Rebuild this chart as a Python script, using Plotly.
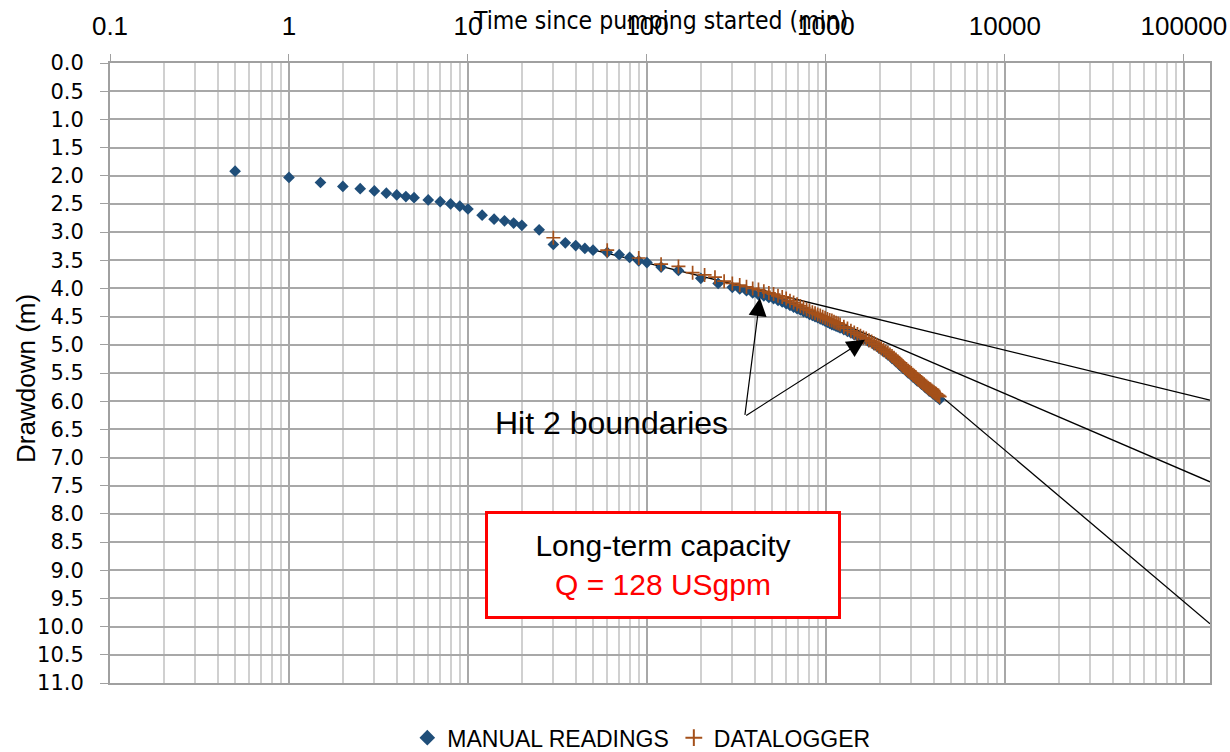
import math
import plotly.graph_objects as go

# ---------------- data ----------------
manual_t = [0.5, 1, 1.5, 2, 2.5, 3, 3.5, 4, 4.5, 5, 6, 7, 8, 9, 10, 12, 14, 16, 18, 20,
            25, 30, 35, 40, 45, 50, 60, 70, 80, 90, 100, 120, 150, 200, 250, 300,
            330, 360, 390, 420, 450, 480, 510, 540, 570, 600, 630, 660, 690, 720, 750,
            780, 810, 840, 870, 900, 930, 960, 990, 1020, 1050, 1080, 1110, 1140, 1170,
            1200, 1260, 1320, 1380, 1440, 1500, 1620, 1740, 1860, 1980, 2100, 2220,
            2340, 2460, 2580, 2700, 2880, 3060, 3240, 3420, 3600, 3780, 3960, 4140, 4320]
manual_d = [1.92, 2.03, 2.12, 2.19, 2.23, 2.27, 2.31, 2.34, 2.37, 2.39, 2.43, 2.46, 2.50,
            2.54, 2.59, 2.70, 2.77, 2.80, 2.84, 2.88, 2.96, 3.22, 3.19, 3.24, 3.29, 3.32,
            3.36, 3.40, 3.45, 3.51, 3.54, 3.62, 3.68, 3.82, 3.91, 3.98,
            4.01, 4.04, 4.08, 4.11, 4.13, 4.16, 4.18, 4.21, 4.24, 4.27, 4.30, 4.33, 4.36,
            4.38, 4.41, 4.43, 4.46, 4.48, 4.50, 4.52, 4.54, 4.56, 4.58, 4.60, 4.62, 4.64,
            4.65, 4.67, 4.68, 4.70, 4.73, 4.76, 4.79, 4.82, 4.84, 4.90, 4.95, 5.00, 5.06,
            5.12, 5.18, 5.24, 5.30, 5.36, 5.42, 5.50, 5.57, 5.64, 5.70, 5.76, 5.82, 5.87,
            5.92, 5.97]

logger_t = [30, 60, 90, 120, 150, 180, 210, 240, 270, 300, 330, 360, 390, 420, 450, 480,
            510, 540, 570, 600, 630, 660, 690, 720, 750, 780, 810, 840, 870, 900, 930,
            960, 990, 1020, 1050, 1080, 1110, 1140, 1170, 1200,
            1260, 1320, 1380, 1440, 1500, 1560, 1620, 1680, 1740, 1800, 1860, 1920, 1980,
            2040, 2100, 2160, 2220, 2280, 2340, 2400, 2460, 2520, 2580, 2640, 2700, 2760,
            2820, 2880, 2940, 3000, 3060, 3120, 3180, 3240, 3300, 3360, 3420, 3480, 3540,
            3600, 3660, 3720, 3780, 3840, 3900, 3960, 4020, 4080, 4140, 4200, 4260, 4320]
logger_d = [3.10, 3.32, 3.46, 3.57, 3.61, 3.72, 3.76, 3.80, 3.87, 3.91, 3.94, 3.97, 4.00,
            4.02, 4.05, 4.08, 4.10, 4.13, 4.15, 4.18, 4.22, 4.25, 4.28, 4.31, 4.34, 4.37,
            4.39, 4.42, 4.44, 4.46, 4.48, 4.50, 4.52, 4.54, 4.56, 4.57, 4.59, 4.61, 4.62,
            4.64,
            4.68, 4.71, 4.75, 4.78, 4.81, 4.84, 4.87, 4.89, 4.92, 4.94, 4.97, 5.00, 5.03,
            5.06, 5.09, 5.12, 5.14, 5.17, 5.20, 5.23, 5.26, 5.29, 5.32, 5.35, 5.38, 5.41,
            5.43, 5.46, 5.48, 5.50, 5.53, 5.55, 5.57, 5.60, 5.62, 5.64, 5.66, 5.68, 5.70,
            5.72, 5.74, 5.76, 5.78, 5.79, 5.81, 5.83, 5.84, 5.86, 5.87, 5.89, 5.90, 5.92]

# Straight-line (semi-log) fits
line1_t = [40, 140000]
line1_d = [3.24, 5.98]
line2_t = [450, 140000]
line2_d = [4.03, 7.43]
line3_t = [2180, 140000]
line3_d = [5.09, 9.95]

x_tickvals = [0.1, 1, 10, 100, 1000, 10000, 100000]
x_ticktext = ["0.1", "1", "10", "100", "1000", "10000", "100000"]
y_tickvals = [i * 0.5 for i in range(23)]
y_ticktext = ["%.1f" % v for v in y_tickvals]

# arrows: heads and common tail (time, drawdown)
arrow_heads = [(428, 4.17), (1652, 4.91)]
arrow_tail = (352, 6.27)

COND = "DejaVu Sans Condensed, Liberation Sans, Arial, sans-serif"
REG = "Liberation Sans, Arial, sans-serif"
BLUE = "#1F4E79"
BROWN = "#A4501A"

fig = go.Figure()
for lt, ld in [(line1_t, line1_d), (line2_t, line2_d), (line3_t, line3_d)]:
    fig.add_trace(go.Scatter(x=lt, y=ld, mode="lines", line=dict(color="black", width=1.3),
                             showlegend=False, hoverinfo="skip"))

fig.add_trace(go.Scatter(x=manual_t, y=manual_d, mode="markers", name="MANUAL READINGS",
                         marker=dict(symbol="diamond", size=9, color=BLUE,
                                     line=dict(width=0))))
fig.add_trace(go.Scatter(x=logger_t, y=logger_d, mode="markers", name="DATALOGGER",
                         marker=dict(symbol="cross-thin", size=10, color=BROWN,
                                     line=dict(width=1.7, color=BROWN))))

annotations = []
for ht, hd in arrow_heads:
    annotations.append(dict(x=math.log10(ht), y=hd, xref="x", yref="y",
                            ax=math.log10(arrow_tail[0]), ay=arrow_tail[1],
                            axref="x", ayref="y", text="", showarrow=True,
                            arrowhead=2, arrowsize=3, arrowwidth=1.2,
                            arrowcolor="black", standoff=0, startstandoff=0))

annotations.append(dict(x=0.456, y=0.4194, xref="paper", yref="paper",
                        text="Hit 2 boundaries", showarrow=False,
                        font=dict(family=REG, size=32, color="black"),
                        xanchor="center", yanchor="middle"))
annotations.append(dict(x=0.5027, y=0.1911, xref="paper", yref="paper",
                        text="Long-term capacity<br><span style='color:#FF0000'>Q = 128 USgpm</span>",
                        showarrow=False, font=dict(family=REG, size=30, color="black"),
                        xanchor="center", yanchor="middle", align="center",
                        bordercolor="#FF0000", borderwidth=3, borderpad=0,
                        bgcolor="white", width=350, height=102))
annotations.append(dict(x=0.5, y=1.0, xref="paper", yref="paper", yshift=43,
                        text="Time since pumping started (min)", showarrow=False,
                        font=dict(family=COND, size=24.5, color="black"),
                        xanchor="center", yanchor="middle"))
annotations.append(dict(x=-0.0764, y=0.492, xref="paper", yref="paper",
                        text="Drawdown (m)", showarrow=False, textangle=-90,
                        font=dict(family=REG, size=26, color="black"),
                        xanchor="center", yanchor="middle"))

fig.update_layout(
    width=1230, height=752,
    margin=dict(l=110, r=20, t=63, b=69),
    plot_bgcolor="white", paper_bgcolor="white",
    showlegend=True,
    legend=dict(orientation="h", x=0.483, xanchor="center",
                yref="container", y=0.019, yanchor="middle",
                font=dict(family=REG, size=23, color="black"),
                itemsizing="constant", traceorder="normal", bgcolor="rgba(0,0,0,0)"),
    annotations=annotations,
)

fig.update_xaxes(type="log", range=[-1, math.log10(140000)], side="top",
                 tickvals=x_tickvals, ticktext=x_ticktext,
                 tickfont=dict(family=REG, size=26, color="black"),
                 ticks="outside", ticklen=7, tickcolor="#A0A0A0", tickwidth=1.3,
                 showgrid=True, gridcolor="#A8A8A8", gridwidth=1.5,
                 minor=dict(showgrid=True, gridcolor="#D0D0D0", gridwidth=1.5,
                            dtick="D1", ticks=""),
                 showline=True, linecolor="#A0A0A0", linewidth=2, mirror=True,
                 zeroline=False, ticklabelstandoff=9, ticklabeloverflow="allow",
                 automargin=False)
fig.update_yaxes(range=[11, 0], tickvals=y_tickvals, ticktext=y_ticktext,
                 tickfont=dict(family="DejaVu Sans, sans-serif", size=21, color="black"),
                 ticks="outside", ticklen=8, tickcolor="#A0A0A0", tickwidth=1.3,
                 showgrid=True, gridcolor="#A8A8A8", gridwidth=1.5,
                 showline=True, linecolor="#A0A0A0", linewidth=2, mirror=True,
                 zeroline=False, ticklabelstandoff=12, automargin=False)

fig.write_html("out.html")
